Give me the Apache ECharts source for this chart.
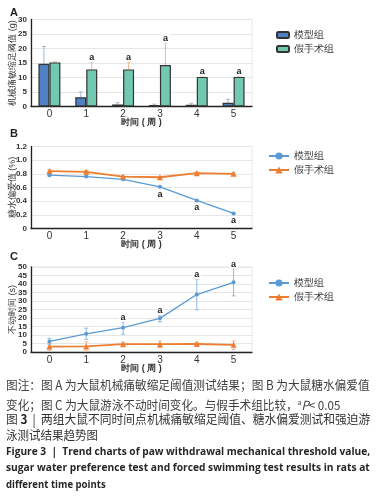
<!DOCTYPE html>
<html>
<head>
<meta charset="utf-8">
<script src="https://cdn.jsdelivr.net/npm/echarts@6/dist/echarts.min.js"></script>
<style>
  body { margin: 0; width: 377px; height: 496px; background: #fff; position: relative; overflow: hidden;
         font-family: "Noto Sans CJK SC", sans-serif; }
  .ch { position: absolute; left: 0; width: 377px; }
  .cap { position: absolute; left: 6px; white-space: nowrap; transform-origin: 0 50%;
         color: #404040; font-size: 12.5px; line-height: 16px; }
  .cap b { color: #222; }
  .en { font-family: "Open Sans", sans-serif; font-weight: bold; color: #262626; font-size: 11px; }
</style>
</head>
<body>
<div id="chartA" class="ch" style="top:0;height:128px"></div>
<div id="chartB" class="ch" style="top:128px;height:122px"></div>
<div id="chartC" class="ch" style="top:250px;height:126px"></div>

<div class="cap" style="top:377px" data-w="364">图注：图 A 为大鼠机械痛敏缩足阈值测试结果；图 B 为大鼠糖水偏爱值</div>
<div class="cap" style="top:394px" data-w="334">变化；图 C 为大鼠游泳不动时间变化。与假手术组比较，<sup style="font-size:7px">a</sup><i>P</i>&lt; 0.05</div>
<div class="cap" style="top:411px;color:#333" data-w="364">图 <b>3</b> &nbsp;|&nbsp; 两组大鼠不同时间点机械痛敏缩足阈值、糖水偏爱测试和强迫游</div>
<div class="cap" style="top:427px;color:#333" data-w="92">泳测试结果趋势图</div>
<div class="cap en" style="top:443px" data-w="364">Figure 3 &nbsp;|&nbsp; Trend charts of paw withdrawal mechanical threshold value,</div>
<div class="cap en" style="top:459px" data-w="364">sugar water preference test and forced swimming test results in rats at</div>
<div class="cap en" style="top:476px" data-w="100">different time points</div>

<script>
// ---- data ----
const weeks = ['0', '1', '2', '3', '4', '5'];
const legendNames = ['模型组', '假手术组'];

// A: paw withdrawal threshold (g), bar + upper error
const modelA = [14.7, 3.2, 0.7, 0.5, 0.6, 1.3];
const modelAUp = [20.7, 5.0, 1.3, 0.8, 1.1, 2.5];
const shamA = [15.2, 12.8, 12.8, 14.3, 10.2, 10.2];
const shamAUp = [15.4, 15.4, 15.4, 22.0, 10.4, 10.4];
const sigA = [false, true, true, true, true, true];

// B: sugar water preference (%)
const modelB = [0.78, 0.76, 0.72, 0.61, 0.41, 0.22];
const modelBLow = [0.77, 0.75, 0.71, 0.60, 0.40, 0.21];
const modelBHigh = [0.79, 0.77, 0.73, 0.62, 0.42, 0.23];
const shamB = [0.84, 0.83, 0.76, 0.75, 0.81, 0.80];
const shamBLow = [0.82, 0.81, 0.75, 0.74, 0.79, 0.78];
const shamBHigh = [0.86, 0.85, 0.77, 0.76, 0.83, 0.82];
const sigB = [false, false, false, true, true, true];

// C: immobility time (s)
const modelC = [6.2, 10.7, 14.3, 19.8, 33.8, 41.0];
const modelCLow = [4.5, 7.5, 10.5, 17.7, 24.8, 33.0];
const modelCHigh = [8.0, 14.0, 17.7, 21.7, 42.8, 49.0];
const shamC = [3.2, 3.3, 4.6, 4.6, 4.7, 4.2];
const shamCLow = [1.0, 0.5, 3.5, 2.5, 3.2, 1.5];
const shamCHigh = [5.0, 6.0, 5.9, 6.5, 5.8, 6.5];
const sigC = [false, false, true, true, true, true];

const blue = '#5b9bd5', orange = '#ed7d31';

function gridCfg(top, height) {
  return { left: 31, top: top, width: 221, height: height, containLabel: false, outerBoundsMode: 'none',
           show: true, borderColor: '#e6e6e6', borderWidth: 1 };
}
function xAxisCfg() {
  return {
    type: 'category', data: weeks,
    name: '时间 ( 周 )', nameLocation: 'middle', nameGap: 12, nameMoveOverlap: false,
    nameTextStyle: { fontSize: 9, fontWeight: 'bold', color: '#333', verticalAlign: 'top' },
    axisLine: { lineStyle: { color: '#222', width: 1.3 } },
    axisTick: { length: 4, lineStyle: { color: '#222' } },
    axisLabel: { fontSize: 10, color: '#333', margin: 3, fontFamily: 'Arial' }
  };
}
function yAxisCfg(name, max, interval, fmt) {
  return {
    type: 'value', min: 0, max: max, interval: interval,
    name: name, nameLocation: 'middle', nameGap: 14, nameMoveOverlap: false,
    nameTextStyle: { fontSize: 9, color: '#333' },
    axisLine: { show: true, lineStyle: { color: '#222', width: 1.3 } },
    axisTick: { show: false },
    axisLabel: { fontSize: 8, fontWeight: 'bold', color: '#333', margin: 4, fontFamily: 'Arial', formatter: fmt,
                 showMinLabel: true, showMaxLabel: true, hideOverlap: false, interval: 0 },
    splitLine: { lineStyle: { color: '#e6e6e6' } }
  };
}
function panelLabel(t, top) {
  return [{ type: 'text', left: 10, top: top, style: { text: t, font: 'bold 11px Arial', fill: '#222' } }];
}

// error bar renderer; value(2)..value(3) is the bar range, "a" marks drawn above or below
function errRender(offset, color, sigs, sigBelow) {
  return function (params, api) {
    const i = api.value(0);
    const pm = api.coord([i, api.value(1)]);
    const pl = api.coord([i, api.value(2)]);
    const ph = api.coord([i, api.value(3)]);
    const x = pm[0] + offset;
    const cap = 2;
    const kids = [
      { type: 'line', shape: { x1: x, y1: pl[1], x2: x, y2: ph[1] }, style: { stroke: color, lineWidth: 1 } },
      { type: 'line', shape: { x1: x - cap, y1: ph[1], x2: x + cap, y2: ph[1] }, style: { stroke: color, lineWidth: 1 } }
    ];
    if (pl[1] !== pm[1]) {
      kids.push({ type: 'line', shape: { x1: x - cap, y1: pl[1], x2: x + cap, y2: pl[1] }, style: { stroke: color, lineWidth: 1 } });
    }
    if (sigs && sigs[params.dataIndex]) {
      kids.push({
        type: 'text', z2: 10,
        style: sigBelow
          ? { text: 'a', x: x, y: pm[1] + 3, textAlign: 'center', textVerticalAlign: 'top', font: 'bold 9px Arial', fill: '#222' }
          : { text: 'a', x: x, y: ph[1], textAlign: 'center', textVerticalAlign: 'bottom', font: 'bold 9px Arial', fill: '#222',
              backgroundColor: '#fff', padding: [1, 2, 0, 2] }
      });
    }
    return { type: 'group', children: kids };
  };
}
function errData(mean, low, high) {
  return mean.map(function (m, i) { return [i, m, low[i], high[i]]; });
}

// ---- chart A ----
const chartA = echarts.init(document.getElementById('chartA'));
chartA.setOption({
  animation: false,
  graphic: panelLabel('A', 7),
  grid: gridCfg(19.5, 87),
  legend: {
    orient: 'vertical', left: 271, top: 25, itemWidth: 12, itemHeight: 6, itemGap: 4,
    data: legendNames, textStyle: { fontSize: 9.5, color: '#333' }
  },
  xAxis: xAxisCfg(),
  yAxis: yAxisCfg('机械痛敏缩足阈值 (g)', 30, 5),
  series: [
    { name: '模型组', type: 'bar', data: modelA, barWidth: 11, barGap: '0%',
      itemStyle: { color: '#4f81c4', borderColor: '#333', borderWidth: 1.2 } },
    { name: '假手术组', type: 'bar', data: shamA, barWidth: 11,
      itemStyle: { color: '#72c9b1', borderColor: '#333', borderWidth: 1.2 } },
    { type: 'custom', z: 1, renderItem: errRender(-5.5, '#9fb8cc', null, false),
      data: errData(modelA, modelA, modelAUp), encode: { x: 0, y: [2, 3] } },
    { type: 'custom', z: 1, renderItem: errRender(5.5, '#f0b890', sigA, false),
      data: errData(shamA, shamA, shamAUp), encode: { x: 0, y: [2, 3] } }
  ]
});

// ---- chart B ----
const chartB = echarts.init(document.getElementById('chartB'));
chartB.setOption({
  animation: false,
  graphic: panelLabel('B', 0),
  grid: gridCfg(18.5, 82),
  legend: {
    orient: 'vertical', left: 263, top: 18, itemWidth: 20, itemHeight: 9, itemGap: 4,
    data: legendNames, textStyle: { fontSize: 9.5, color: '#333' }
  },
  xAxis: xAxisCfg(),
  yAxis: yAxisCfg('糖水偏爱值 (%)', 1.2, 0.2, function (v) { return v === 0 ? '0' : v.toFixed(1); }),
  series: [
    { name: '模型组', type: 'line', data: modelB, symbol: 'circle', symbolSize: 4,
      itemStyle: { color: blue }, lineStyle: { color: blue, width: 1.3 } },
    { name: '假手术组', type: 'line', data: shamB, symbol: 'triangle', symbolSize: 6,
      itemStyle: { color: orange }, lineStyle: { color: orange, width: 1.8 } },
    { type: 'custom', renderItem: errRender(0, '#8fb8e0', sigB, true),
      data: errData(modelB, modelBLow, modelBHigh), encode: { x: 0, y: [2, 3] } },
    { type: 'custom', renderItem: errRender(0, '#f5b48a', null, false),
      data: errData(shamB, shamBLow, shamBHigh), encode: { x: 0, y: [2, 3] } }
  ]
});

// ---- chart C ----
const chartC = echarts.init(document.getElementById('chartC'));
chartC.setOption({
  animation: false,
  graphic: panelLabel('C', 1),
  grid: gridCfg(17, 85),
  legend: {
    orient: 'vertical', left: 263, top: 23, itemWidth: 20, itemHeight: 9, itemGap: 4,
    data: legendNames, textStyle: { fontSize: 9.5, color: '#333' }
  },
  xAxis: xAxisCfg(),
  yAxis: yAxisCfg('不动时间 (s)', 50, 5),
  series: [
    { name: '模型组', type: 'line', data: modelC, symbol: 'circle', symbolSize: 4,
      itemStyle: { color: blue }, lineStyle: { color: blue, width: 1.3 } },
    { name: '假手术组', type: 'line', data: shamC, symbol: 'triangle', symbolSize: 6,
      itemStyle: { color: orange }, lineStyle: { color: orange, width: 1.8 } },
    { type: 'custom', renderItem: errRender(0, '#8fb8e0', sigC, false),
      data: errData(modelC, modelCLow, modelCHigh), encode: { x: 0, y: [2, 3] } },
    { type: 'custom', renderItem: errRender(0, '#f5b48a', null, false),
      data: errData(shamC, shamCLow, shamCHigh), encode: { x: 0, y: [2, 3] } }
  ]
});

// stretch caption lines to the reference widths
document.querySelectorAll('.cap[data-w]').forEach(function (el) {
  const w = el.offsetWidth;
  const target = +el.getAttribute('data-w');
  if (w > 0) el.style.transform = 'scaleX(' + (target / w) + ')';
});
</script>
</body>
</html>
